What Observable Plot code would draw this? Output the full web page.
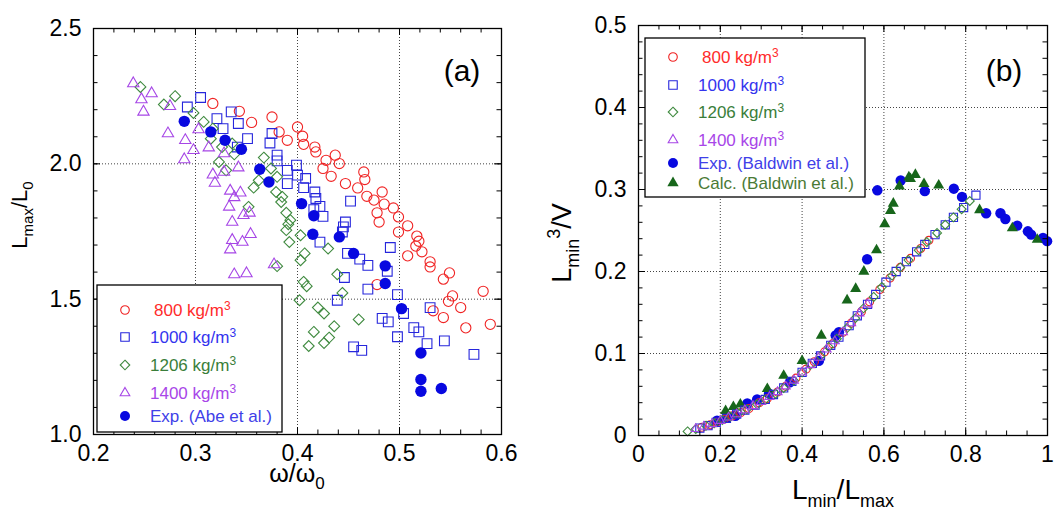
<!DOCTYPE html>
<html><head><meta charset="utf-8">
<script src="https://cdn.jsdelivr.net/npm/d3@7"></script>
<script src="https://cdn.jsdelivr.net/npm/@observablehq/plot@0.6"></script>
<style>
body{margin:0;background:#fff;}
#wrap{display:flex;width:1058px;height:510px;overflow:hidden;}
#wrap svg{display:block;}
</style></head><body><div id="wrap"></div>
<script>
// ---------- Panel (a): Lmax/L0 vs omega/omega0 ----------
const a800 = [[0.317,2.223],[0.343,2.194],[0.355,2.153],[0.375,2.173],[0.382,2.118],[0.390,2.087],[0.400,2.136],[0.405,2.102],[0.406,2.072],[0.417,2.062],[0.418,2.044],[0.428,2.013],[0.437,2.032],[0.441,2.001],[0.425,1.983],[0.433,1.954],[0.465,1.970],[0.466,1.942],[0.447,1.927],[0.459,1.911],[0.468,1.880],[0.483,1.896],[0.475,1.866],[0.485,1.851],[0.494,1.837],[0.478,1.819],[0.499,1.804],[0.480,1.785],[0.508,1.771],[0.499,1.748],[0.517,1.733],[0.519,1.714],[0.516,1.696],[0.522,1.675],[0.508,1.660],[0.530,1.638],[0.530,1.619],[0.549,1.597],[0.543,1.574],[0.478,1.554],[0.582,1.529],[0.552,1.512],[0.548,1.492],[0.560,1.469],[0.533,1.457],[0.543,1.432],[0.565,1.394],[0.589,1.407]];
const a1000 = [[0.305,2.245],[0.292,2.210],[0.335,2.192],[0.321,2.167],[0.342,2.149],[0.327,2.130],[0.351,2.093],[0.375,2.112],[0.373,2.077],[0.341,2.062],[0.380,2.032],[0.380,2.011],[0.399,1.995],[0.390,1.976],[0.400,1.958],[0.390,1.927],[0.408,1.946],[0.406,1.912],[0.417,1.896],[0.418,1.872],[0.422,1.843],[0.416,1.831],[0.425,1.806],[0.452,1.862],[0.447,1.785],[0.445,1.767],[0.444,1.748],[0.422,1.711],[0.449,1.669],[0.461,1.648],[0.469,1.625],[0.491,1.691],[0.488,1.603],[0.446,1.580],[0.469,1.537],[0.498,1.517],[0.439,1.496],[0.504,1.447],[0.483,1.429],[0.489,1.416],[0.530,1.469],[0.514,1.395],[0.519,1.379],[0.498,1.361],[0.527,1.336],[0.544,1.346],[0.455,1.324],[0.463,1.311],[0.573,1.296]];
const a1206 = [[0.246,2.284],[0.280,2.250],[0.269,2.219],[0.298,2.188],[0.308,2.155],[0.317,2.130],[0.315,2.093],[0.326,2.062],[0.336,2.075],[0.338,2.035],[0.323,2.007],[0.330,1.976],[0.367,2.023],[0.374,1.983],[0.380,1.952],[0.362,1.939],[0.357,1.912],[0.379,1.896],[0.385,1.878],[0.384,1.859],[0.352,1.841],[0.389,1.819],[0.393,1.792],[0.391,1.777],[0.389,1.755],[0.403,1.736],[0.392,1.711],[0.407,1.669],[0.403,1.644],[0.380,1.622],[0.406,1.564],[0.402,1.496],[0.430,1.687],[0.409,1.548],[0.439,1.592],[0.444,1.523],[0.420,1.469],[0.426,1.447],[0.460,1.425],[0.436,1.400],[0.416,1.379],[0.431,1.358],[0.426,1.338],[0.411,1.327]];
const a1400 = [[0.239,2.297],[0.257,2.260],[0.247,2.238],[0.249,2.192],[0.275,2.213],[0.273,2.112],[0.290,2.087],[0.298,2.050],[0.289,2.016],[0.303,2.127],[0.313,2.060],[0.328,2.038],[0.342,1.986],[0.328,1.970],[0.317,1.960],[0.319,1.929],[0.334,1.900],[0.344,1.893],[0.338,1.876],[0.333,1.841],[0.347,1.810],[0.353,1.819],[0.336,1.785],[0.354,1.740],[0.346,1.711],[0.336,1.718],[0.334,1.683],[0.350,1.595],[0.338,1.591],[0.377,1.628]];
const aAbe = [[0.289,2.157],[0.315,2.118],[0.329,2.087],[0.345,2.054],[0.363,1.980],[0.372,1.933],[0.404,1.853],[0.416,1.808],[0.415,1.740],[0.441,1.730],[0.455,1.669],[0.486,1.623],[0.486,1.558],[0.502,1.465],[0.521,1.301],[0.521,1.203],[0.521,1.160],[0.541,1.170]];
const aXTicks = [0.2,0.3,0.4,0.5,0.6];
const aYTicks = [1.0,1.5,2.0,2.5];
const aXLabels = ["0.2","0.3","0.4","0.5","0.6"];
const aYLabels = ["1.0","1.5","2.0","2.5"];

// ---------- Panel (b): Lmin^3/V vs Lmin/Lmax ----------
const b800 = [[0.155,0.010],[0.175,0.013],[0.19,0.016],[0.21,0.020],[0.23,0.024],[0.25,0.028],[0.27,0.033],[0.295,0.040],[0.315,0.045],[0.34,0.053],[0.36,0.060],[0.385,0.070],[0.41,0.081],[0.43,0.090],[0.455,0.102],[0.475,0.112],[0.50,0.126],[0.52,0.137],[0.545,0.151],[0.565,0.163],[0.59,0.178],[0.615,0.192],[0.64,0.205],[0.665,0.216],[0.69,0.228],[0.71,0.238]];
const b1000 = [[0.15,0.009],[0.17,0.012],[0.19,0.016],[0.215,0.021],[0.24,0.026],[0.26,0.031],[0.285,0.037],[0.31,0.044],[0.33,0.050],[0.355,0.058],[0.375,0.066],[0.40,0.077],[0.425,0.088],[0.445,0.097],[0.47,0.110],[0.49,0.120],[0.515,0.134],[0.535,0.146],[0.56,0.160],[0.58,0.172],[0.605,0.187],[0.63,0.200],[0.655,0.212],[0.68,0.224],[0.70,0.233],[0.725,0.245],[0.75,0.257],[0.77,0.266],[0.795,0.278],[0.825,0.293]];
const b1206 = [[0.12,0.005],[0.14,0.008],[0.165,0.012],[0.185,0.015],[0.205,0.019],[0.225,0.023],[0.245,0.027],[0.265,0.032],[0.29,0.038],[0.31,0.044],[0.335,0.051],[0.355,0.058],[0.38,0.067],[0.40,0.077],[0.42,0.086],[0.445,0.097],[0.465,0.108],[0.485,0.118],[0.51,0.131],[0.53,0.143],[0.55,0.155],[0.575,0.169],[0.595,0.181],[0.62,0.195],[0.64,0.205],[0.66,0.214],[0.685,0.226],[0.705,0.236],[0.73,0.247],[0.75,0.257],[0.77,0.266],[0.79,0.276],[0.81,0.286]];
const b1400 = [[0.14,0.008],[0.16,0.011],[0.18,0.014],[0.20,0.018],[0.22,0.022],[0.24,0.026],[0.26,0.031],[0.28,0.036],[0.30,0.041],[0.32,0.047],[0.34,0.053],[0.36,0.060],[0.38,0.067],[0.40,0.077],[0.42,0.086],[0.44,0.095],[0.46,0.105],[0.48,0.115],[0.50,0.126],[0.52,0.137],[0.54,0.149],[0.56,0.160]];
const bExp = [[0.192,0.018],[0.217,0.022],[0.237,0.024],[0.266,0.039],[0.290,0.044],[0.319,0.051],[0.370,0.065],[0.441,0.091],[0.482,0.122],[0.490,0.126],[0.559,0.215],[0.584,0.299],[0.641,0.311],[0.700,0.298],[0.771,0.301],[0.791,0.291],[0.850,0.271],[0.885,0.271],[0.897,0.264],[0.926,0.256],[0.952,0.249],[0.960,0.245],[0.989,0.241],[0.999,0.237]];
const bCalc = [[0.213,0.030],[0.232,0.035],[0.249,0.038],[0.315,0.057],[0.355,0.073],[0.400,0.091],[0.447,0.122],[0.510,0.165],[0.531,0.179],[0.551,0.200],[0.582,0.226],[0.602,0.258],[0.616,0.274],[0.623,0.283],[0.638,0.304],[0.661,0.315],[0.665,0.313],[0.677,0.318],[0.698,0.307],[0.734,0.305],[0.834,0.275],[0.914,0.253],[0.975,0.239]];
const bXTicks = [0,0.2,0.4,0.6,0.8,1];
const bYTicks = [0,0.1,0.2,0.3,0.4,0.5];
const bXLabels = ["0","0.2","0.4","0.6","0.8","1"];
const bYLabels = ["0","0.1","0.2","0.3","0.4","0.5"];

const C = {red:"#f02424", blue:"#2626dc", green:"#3f8a3f", purple:"#a646e6", fblue:"#0808e0", fgreen:"#17661b"};
const FONT = '"Liberation Sans", Arial, Helvetica, sans-serif';

function range(a, b, s) { const out = []; for (let i = 0; a + i*s <= b + 1e-9; i++) out.push(+(a + i*s).toFixed(4)); return out; }

function panel(cfg) {
  const {W, H, ml, mr, mt, mb} = cfg;
  const ph = H - mt - mb, pw = W - ml - mr;
  const tick = (vals, len, axis) => axis === "x"
    ? [Plot.tickX(vals, {x: d => d, insetTop: ph - len, stroke: "#000", strokeWidth: 1}),
       Plot.tickX(vals, {x: d => d, insetBottom: ph - len, stroke: "#000", strokeWidth: 1})]
    : [Plot.tickY(vals, {y: d => d, insetRight: pw - len, stroke: "#000", strokeWidth: 1}),
       Plot.tickY(vals, {y: d => d, insetLeft: pw - len, stroke: "#000", strokeWidth: 1})];
  const marks = [
    Plot.ruleX(cfg.xGrid, {x: d => d, stroke: "#444", strokeWidth: 1, strokeDasharray: "1,2"}),
    Plot.ruleY(cfg.yGrid, {y: d => d, stroke: "#444", strokeWidth: 1, strokeDasharray: "1,2"}),
    ...cfg.series.map(s => Plot.dot(s.data, {
      x: d => d[0], y: d => d[1], symbol: s.symbol, r: s.r,
      stroke: s.filled ? "none" : s.color, fill: s.filled ? s.color : "none", strokeWidth: 1.1
    })),
    ...tick(cfg.xMinor, 4.5, "x"), ...tick(cfg.xTicks, 7, "x"),
    ...tick(cfg.yMinor, 4.5, "y"), ...tick(cfg.yTicks, 7, "y"),
    Plot.frame({stroke: "#000", strokeWidth: 1.3})
  ];
  return Plot.plot({
    width: W, height: H, marginLeft: ml, marginRight: mr, marginTop: mt, marginBottom: mb,
    style: {fontFamily: FONT, fontSize: "23px", color: "#000", background: "#fff", overflow: "visible"},
    x: {domain: cfg.xDomain, ticks: cfg.xTicks, tickFormat: d => cfg.xLabels[cfg.xTicks.indexOf(d)], tickSize: 0, tickPadding: 10, label: null},
    y: {domain: cfg.yDomain, ticks: cfg.yTicks, tickFormat: d => cfg.yLabels[cfg.yTicks.indexOf(d)], tickSize: 0, tickPadding: 12, label: null},
    marks
  });
}

function addLabel(svg, {x, y, rotate = 0, size, sub, parts}) {
  const t = d3.select(svg).append("text")
    .attr("transform", `translate(${x},${y}) rotate(${rotate})`)
    .attr("text-anchor", "middle").attr("font-family", FONT).attr("font-size", size).attr("fill", "#000");
  let shift = 0;
  for (const p of parts) {
    const target = p.t === "sub" ? 0.28 * size : p.t === "sup" ? -0.42 * size : 0;
    t.append("tspan").attr("dy", target - shift).attr("font-size", p.t ? sub : size).text(p.s);
    shift = target;
  }
}

function symbolPath(name, size) {
  const map = {circle: d3.symbolCircle, square2: d3.symbolSquare2, diamond2: d3.symbolDiamond2, triangle2: d3.symbolTriangle2, triangle: d3.symbolTriangle};
  return d3.symbol(map[name], size)();
}

function addLegend(svg, {x, y, w, h, symX, textX, rows}) {
  const g = d3.select(svg).append("g").attr("font-family", FONT).attr("font-size", 17).attr("text-anchor", "start");
  g.append("rect").attr("x", x).attr("y", y).attr("width", w).attr("height", h)
    .attr("fill", "#fff").attr("stroke", "#000").attr("stroke-width", 1.3);
  for (const r of rows) {
    g.append("path").attr("d", symbolPath(r.symbol, Math.PI * r.r * r.r))
      .attr("transform", `translate(${symX},${r.y})`)
      .attr("fill", r.filled ? r.color : "none").attr("stroke", r.filled ? "none" : r.color).attr("stroke-width", 1.1);
    const t = g.append("text").attr("text-anchor", "start").attr("x", textX + (r.dx || 0)).attr("y", r.y).attr("dy", "0.35em").attr("fill", r.textColor);
    t.append("tspan").text(r.label);
    if (r.sup) t.append("tspan").attr("dy", "-0.5em").attr("font-size", 12).text(r.sup);
  }
}

const wrap = document.getElementById("wrap");

// Panel (a)
const svgA = panel({
  W: 529, H: 510, ml: 93, mr: 28, mt: 28, mb: 76,
  xDomain: [0.2, 0.6], yDomain: [1.0, 2.5],
  xTicks: aXTicks, yTicks: aYTicks, xLabels: aXLabels, yLabels: aYLabels,
  xMinor: range(0.2, 0.6, 0.02), yMinor: range(1.0, 2.5, 0.1),
  xGrid: [0.3, 0.4, 0.5], yGrid: [1.5, 2.0],
  series: [
    {data: a800, symbol: "circle", r: 5.1, color: C.red},
    {data: a1000, symbol: "square2", r: 6.2, color: C.blue},
    {data: a1206, symbol: "diamond2", r: 4.9, color: C.green},
    {data: a1400, symbol: "triangle2", r: 5.4, color: C.purple},
    {data: aAbe, symbol: "circle", r: 5.7, color: C.fblue, filled: true}
  ]
});
wrap.appendChild(svgA);
addLabel(svgA, {x: 297, y: 482, size: 25, sub: 17, parts: [{s: "ω/ω"}, {s: "0", t: "sub"}]});
addLabel(svgA, {x: 27, y: 215, rotate: -90, size: 22, sub: 15, parts: [{s: "L"}, {s: "max", t: "sub"}, {s: "/L"}, {s: "0", t: "sub"}]});
d3.select(svgA).append("text").attr("x", 462).attr("y", 81).attr("text-anchor", "middle")
  .attr("font-family", FONT).attr("font-size", 30).attr("fill", "#000").text("(a)");
addLegend(svgA, {x: 97, y: 285, w: 185, h: 147, symX: 125, textX: 150, rows: [
  {label: "800 kg/m", sup: "3", y: 310, symbol: "circle", r: 4.3, color: C.red, textColor: "#ff2b2b", dx: 4},
  {label: "1000 kg/m", sup: "3", y: 337, symbol: "square2", r: 5.4, color: C.blue, textColor: "#3434ee"},
  {label: "1206 kg/m", sup: "3", y: 365, symbol: "diamond2", r: 4.3, color: C.green, textColor: "#3a7e3a"},
  {label: "1400 kg/m", sup: "3", y: 393, symbol: "triangle2", r: 4.6, color: C.purple, textColor: "#a846e8"},
  {label: "Exp. (Abe et al.)", y: 416, symbol: "circle", r: 5, color: C.fblue, textColor: "#4040e8", filled: true}
]});

// Panel (b)
const svgB = panel({
  W: 529, H: 510, ml: 109, mr: 11, mt: 25, mb: 75,
  xDomain: [0, 1], yDomain: [0, 0.5],
  xTicks: bXTicks, yTicks: bYTicks, xLabels: bXLabels, yLabels: bYLabels,
  xMinor: range(0, 1, 0.05), yMinor: range(0, 0.5, 0.02),
  xGrid: [0.2, 0.4, 0.6, 0.8], yGrid: [0.1, 0.2, 0.3, 0.4],
  series: [
    {data: bExp, symbol: "circle", r: 5.2, color: C.fblue, filled: true},
    {data: bCalc, symbol: "triangle", r: 4.1, color: C.fgreen, filled: true},
    {data: b800, symbol: "circle", r: 4.0, color: C.red},
    {data: b1000, symbol: "square2", r: 5.2, color: C.blue},
    {data: b1206, symbol: "diamond2", r: 4.0, color: C.green},
    {data: b1400, symbol: "triangle2", r: 4.3, color: C.purple}
  ]
});
wrap.appendChild(svgB);
addLabel(svgB, {x: 314, y: 499, size: 28, sub: 18, parts: [{s: "L"}, {s: "min", t: "sub"}, {s: "/L"}, {s: "max", t: "sub"}]});
addLabel(svgB, {x: 42, y: 243, rotate: -90, size: 27, sub: 18, parts: [{s: "L"}, {s: "min", t: "sub"}, {s: "3", t: "sup"}, {s: "/V"}]});
d3.select(svgB).append("text").attr("x", 475).attr("y", 81).attr("text-anchor", "middle")
  .attr("font-family", FONT).attr("font-size", 30).attr("fill", "#000").text("(b)");
addLegend(svgB, {x: 116, y: 38, w: 220, h: 159, symX: 144, textX: 169, rows: [
  {label: "800 kg/m", sup: "3", y: 57, symbol: "circle", r: 4.3, color: C.red, textColor: "#ff2b2b", dx: 4},
  {label: "1000 kg/m", sup: "3", y: 85, symbol: "square2", r: 5.4, color: C.blue, textColor: "#3434ee"},
  {label: "1206 kg/m", sup: "3", y: 112, symbol: "diamond2", r: 4.3, color: C.green, textColor: "#3a7e3a"},
  {label: "1400 kg/m", sup: "3", y: 140, symbol: "triangle2", r: 4.6, color: C.purple, textColor: "#a846e8"},
  {label: "Exp. (Baldwin et al.)", y: 163, symbol: "circle", r: 5, color: C.fblue, textColor: "#4040e8", filled: true},
  {label: "Calc. (Baldwin et al.)", y: 183, symbol: "triangle", r: 4.2, color: C.fgreen, textColor: "#4a7a35", filled: true}
]});
</script></body></html>
